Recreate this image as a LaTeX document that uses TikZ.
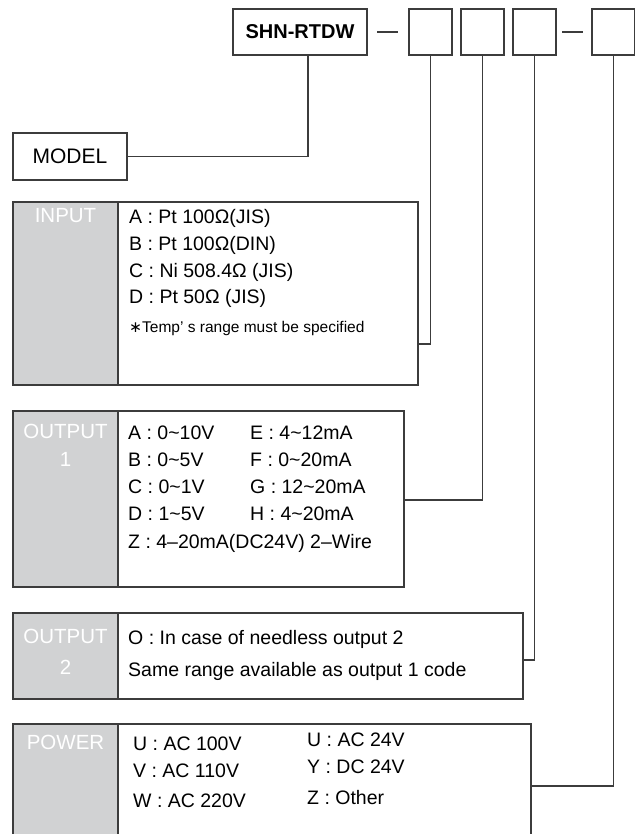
\documentclass[tikz,border=0pt]{standalone}
\usepackage{fontspec}
\setmainfont{Liberation Sans}
\newfontfamily\symfont{DejaVu Sans}
\usetikzlibrary{positioning}
\definecolor{codeGray}{HTML}{D1D2D3}
\definecolor{codeLine}{HTML}{3C3C3C}
\newcommand{\rowfont}{\fontsize{19.5}{23}\selectfont}
\newcommand{\tagfont}{\fontsize{20.5}{24}\selectfont}
\newcommand{\notefont}{\fontsize{15.5}{19}\selectfont}
\newcommand{\tld}{\textasciitilde}
\tikzset{
  codebox/.style = {rectangle, draw=codeLine, line width=1.2pt, fill=white,
                    minimum width=43pt, minimum height=46pt,
                    inner sep=0pt, outer sep=0pt},
  panel/.style   = {rectangle, draw=codeLine, line width=1.2pt, fill=white,
                    anchor=north west, inner sep=0pt, outer sep=0pt},
  tagbox/.style  = {panel, fill=codeGray, minimum width=105pt},
  tagtext/.style = {text=white, font=\tagfont, inner sep=0pt,
                    text height=14.7pt, text depth=0pt},
  rowtext/.style = {anchor=west, font=\rowfont, inner sep=0pt,
                    text height=14pt, text depth=0pt},
  notetext/.style= {rowtext, font=\notefont, text height=11pt},
  wire/.style    = {draw=codeLine, line width=1.2pt},
}

\begin{document}
\begin{tikzpicture}[x=1pt, y=-1pt]
  \useasboundingbox (0,0) rectangle (634,834);

  % ---- Order code (top row) ----
  \node[codebox, anchor=north west, minimum width=134pt,
        font=\bfseries\fontsize{20}{24}\selectfont] (shn) at (233,9) {SHN-RTDW};
  \node[codebox, right=42pt of shn]   (codeA) {};
  \node[codebox, right=9pt of codeA]  (codeB) {};
  \node[codebox, right=9pt of codeB]  (codeC) {};
  \node[codebox, right=36pt of codeC] (codeD) {};
  \draw[wire, shorten <=10pt, shorten >=11pt] (shn) -- (codeA);
  \draw[wire, shorten <=6pt, shorten >=9pt] (codeC) -- (codeD);

  % ---- Model ----
  \node[panel, minimum width=114pt, minimum height=47pt,
        font=\fontsize{21}{25}\selectfont] (model) at (13,133) {MODEL};

  % ---- Input ----
  \node[panel, minimum width=405pt, minimum height=183pt] (input) at (13,202) {};
  \node[tagbox, minimum height=183pt] (inputTag) at (13,202) {};
  \node[tagtext] (inputLbl) at (65.5,215) {INPUT};
  \node[rowtext] (inA) at (129,216) {A : Pt 100Ω(JIS)};
  \node[rowtext] (inB) at (129,243) {B : Pt 100Ω(DIN)};
  \node[rowtext] (inC) at (129,270) {C : Ni 508.4Ω (JIS)};
  \node[rowtext] (inD) at (129,296) {D : Pt 50Ω (JIS)};
  \node[notetext] (inNote) at (129,327) {{\symfont ∗}Temp’ s range must be specified};

  % ---- Output 1 ----
  \node[panel, minimum width=391pt, minimum height=176pt] (outOne) at (13,411) {};
  \node[tagbox, minimum height=176pt] (outOneTag) at (13,411) {};
  \node[tagtext] (outOneLbl) at (65.5,431) {OUTPUT};
  \node[tagtext] (outOneNum) at (65.5,459) {1};
  \node[rowtext] (oA) at (128,432) {A : 0\tld10V};
  \node[rowtext] (oB) at (128,459) {B : 0\tld5V};
  \node[rowtext] (oC) at (128,486) {C : 0\tld1V};
  \node[rowtext] (oD) at (128,513) {D : 1\tld5V};
  \node[rowtext] (oZ) at (128,541) {Z : 4–20mA(DC24V) 2–Wire};
  \node[rowtext] (oE) at (250,432) {E : 4\tld12mA};
  \node[rowtext] (oF) at (250,459) {F : 0\tld20mA};
  \node[rowtext] (oG) at (250,486) {G : 12\tld20mA};
  \node[rowtext] (oH) at (250,513) {H : 4\tld20mA};

  % ---- Output 2 ----
  \node[panel, minimum width=510pt, minimum height=86pt] (outTwo) at (13,613) {};
  \node[tagbox, minimum height=86pt] (outTwoTag) at (13,613) {};
  \node[tagtext] (outTwoLbl) at (65.5,636) {OUTPUT};
  \node[tagtext] (outTwoNum) at (65.5,667) {2};
  \node[rowtext] (tO) at (128,637) {O : In case of needless output 2};
  \node[rowtext] (tSame) at (128,669) {Same range available as output 1 code};

  % ---- Power ----
  \node[panel, minimum width=518pt, minimum height=130pt] (power) at (13,724) {};
  \node[tagbox, minimum height=130pt] (powerTag) at (13,724) {};
  \node[tagtext] (powerLbl) at (65.5,742) {POWER};
  \node[rowtext] (pU) at (133,743) {U : AC 100V};
  \node[rowtext] (pV) at (133,770) {V : AC 110V};
  \node[rowtext] (pW) at (133,800) {W : AC 220V};
  \node[rowtext] (pUb) at (307,739) {U : AC 24V};
  \node[rowtext] (pY) at (307,766) {Y : DC 24V};
  \node[rowtext] (pZ) at (307,797) {Z : Other};

  % ---- Leader lines ----
  \coordinate (inPin)  at (input.east |- 0,344);
  \coordinate (oOnePin) at (outOne.east |- 0,500);
  \coordinate (oTwoPin) at (outTwo.east |- 0,660);
  \coordinate (powPin) at (power.east |- 0,786);
  \draw[wire] ([xshift=8pt]shn.south) |- (model.east);
  \draw[wire] (codeA.south) |- (inPin);
  \draw[wire] (codeB.south) |- (oOnePin);
  \draw[wire] (codeC.south) |- (oTwoPin);
  \draw[wire] (codeD.south) |- (powPin);

\end{tikzpicture}
\end{document}
